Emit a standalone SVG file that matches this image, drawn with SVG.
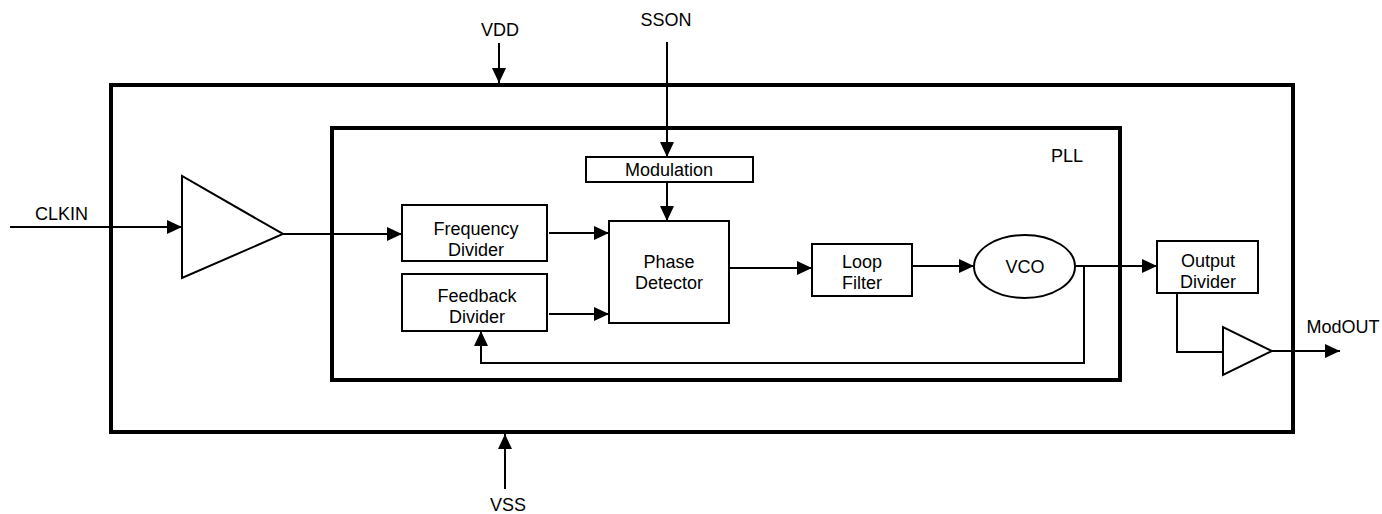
<svg xmlns="http://www.w3.org/2000/svg" width="1382" height="514" viewBox="0 0 1382 514">
<style>
  text { font-family: "Liberation Sans", Arial, sans-serif; font-size: 18px; fill: #000; text-anchor: middle; }
  .box { fill: #fff; stroke: #000; stroke-width: 2; }
  .frame { fill: none; stroke: #000; stroke-width: 4; }
  .wire { fill: none; stroke: #000; stroke-width: 2; }
  .arr { marker-end: url(#ah); }
</style>
<defs>
  <marker id="ah" markerUnits="userSpaceOnUse" markerWidth="15" markerHeight="14" refX="15" refY="7" orient="auto">
    <path d="M0,0 L15,7 L0,14 Z" fill="#000"/>
  </marker>
</defs>
<rect width="1382" height="514" fill="#fff"/>

<g id="chip">
  <rect class="frame" x="111" y="85" width="1182" height="347"/>
</g>
<g id="pll">
  <rect class="frame" x="332" y="128" width="788" height="252"/>
  <text x="1067" y="162">PLL</text>
</g>

<g id="connectors">
  <line class="wire arr" x1="499" y1="43" x2="499" y2="83"/>
  <line class="wire arr" x1="667" y1="42" x2="667" y2="157"/>
  <line class="wire arr" x1="667" y1="182" x2="667" y2="221"/>
  <line class="wire arr" x1="10" y1="227" x2="182" y2="227"/>
  <line class="wire arr" x1="283" y1="234" x2="402" y2="234"/>
  <line class="wire arr" x1="549" y1="233" x2="609" y2="233"/>
  <line class="wire arr" x1="549" y1="314" x2="609" y2="314"/>
  <line class="wire arr" x1="729" y1="268" x2="812" y2="268"/>
  <line class="wire arr" x1="912" y1="266" x2="974" y2="266"/>
  <line class="wire arr" x1="1075" y1="266" x2="1157" y2="266"/>
  <polyline class="wire arr" points="1084,266 1084,363 481,363 481,331"/>
  <polyline class="wire" points="1177,293 1177,352 1223,352"/>
  <line class="wire arr" x1="1272" y1="351" x2="1340" y2="351"/>
  <line class="wire arr" x1="505" y1="489" x2="505" y2="434"/>
</g>

<g id="labels">
  <text x="500" y="36">VDD</text>
  <text x="666" y="26">SSON</text>
  <text x="61.5" y="220">CLKIN</text>
  <text x="508" y="511">VSS</text>
  <text x="1343" y="333">ModOUT</text>
</g>

<g id="input_buffer">
  <polygon class="box" points="182,176 182,278 283,234"/>
</g>
<g id="modulation">
  <rect class="box" x="586" y="157" width="167" height="25"/>
  <text x="669" y="176">Modulation</text>
</g>
<g id="frequency_divider">
  <rect class="box" x="402" y="205" width="145" height="56"/>
  <text x="476" y="235">Frequency</text>
  <text x="476" y="256">Divider</text>
</g>
<g id="feedback_divider">
  <rect class="box" x="402" y="274" width="145" height="57"/>
  <text x="477" y="302">Feedback</text>
  <text x="477" y="323">Divider</text>
</g>
<g id="phase_detector">
  <rect class="box" x="609" y="221" width="120" height="102"/>
  <text x="669" y="268">Phase</text>
  <text x="669" y="289">Detector</text>
</g>
<g id="loop_filter">
  <rect class="box" x="812" y="244" width="100" height="52"/>
  <text x="862" y="268">Loop</text>
  <text x="862" y="289">Filter</text>
</g>
<g id="vco">
  <ellipse class="box" cx="1024.5" cy="266.5" rx="50.5" ry="31.5"/>
  <text x="1025" y="273">VCO</text>
</g>
<g id="output_divider">
  <rect class="box" x="1157" y="241" width="101" height="52"/>
  <text x="1208" y="267">Output</text>
  <text x="1208" y="288">Divider</text>
</g>
<g id="output_buffer">
  <polygon class="box" points="1223,327 1223,375 1272,351"/>
</g>
</svg>
